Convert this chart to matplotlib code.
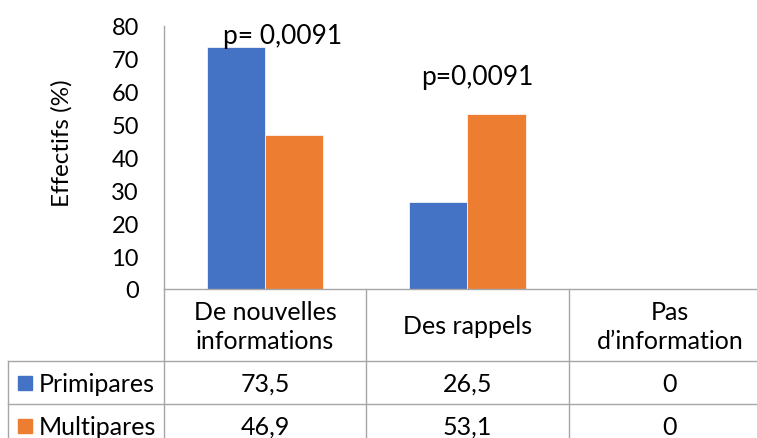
import matplotlib.pyplot as plt
import numpy as np

# Données
categories = ["De nouvelles\ninformations", "Des rappels", "Pas\nd\u2019information"]
series_names = ["Primipares", "Multipares"]
primipares = [73.5, 26.5, 0]
multipares = [46.9, 53.1, 0]
value_labels = [["73,5", "26,5", "0"], ["46,9", "53,1", "0"]]
p_labels = ["p= 0,0091", "p=0,0091"]
p_pos = [(0.085, 77), (1.047, 64.5)]
colors = ["#4472C4", "#ED7D31"]
grid_col = "#A6A6A6"

plt.rcParams['font.family'] = ['Lato', 'DejaVu Sans']
FS = 18

W, H = 757, 439
fig = plt.figure(figsize=(W / 100, H / 100), dpi=100)

# axe principal (en pixels du dessin de référence)
left, right, top, bottom = 164, 771, 27, 290
ax = fig.add_axes([left / W, 1 - bottom / H, (right - left) / W, (bottom - top) / H])

x = np.arange(len(categories))
bw = 0.287
ax.bar(x - bw / 2, primipares, bw, color=colors[0], edgecolor="white", linewidth=0.5)
ax.bar(x + bw / 2, multipares, bw, color=colors[1], edgecolor="white", linewidth=0.5)

for (px, py), txt in zip(p_pos, p_labels):
    ax.text(px, py, txt, ha="center", va="center", fontsize=19, clip_on=False)

ax.set_xlim(-0.5, len(categories) - 0.5)
ax.set_ylim(0, 80)
ax.set_yticks(np.arange(0, 81, 10))
ax.tick_params(axis="y", length=0, labelsize=17, pad=18)
ax.set_xticks([])
for s in ["top", "right"]:
    ax.spines[s].set_visible(False)
for s in ["left", "bottom"]:
    ax.spines[s].set_color(grid_col)
    ax.spines[s].set_linewidth(1)
ax.set_ylabel("Effectifs (%)", fontsize=17.5)
ax.yaxis.set_label_coords(-0.15, 0.56)

# tableau de données sous le graphique
tab_top, row1, row2, tab_bot = 290, 362, 405, 448
tax = fig.add_axes([left / W, 0, (right - left) / W, (H - tab_top) / H])
tax.set_xlim(-0.5, len(categories) - 0.5)
tax.set_ylim(H, tab_top)
tax.axis("off")
px_per_cat = (right - left) / len(categories)
x_left_edge = -0.5 - (left - 8) / px_per_cat

lk = dict(color=grid_col, linewidth=1, clip_on=False)
for xb in np.arange(len(categories) + 1) - 0.5:
    tax.plot([xb, xb], [tab_top, tab_bot], **lk)
tax.plot([x_left_edge, x_left_edge], [row1, tab_bot], **lk)
for yb in [row1, row2, tab_bot]:
    tax.plot([x_left_edge, len(categories) - 0.5], [yb, yb], **lk)

for i, cat in enumerate(categories):
    tax.text(i, (tab_top + row1) / 2 + 1, cat, ha="center", va="center",
             fontsize=FS, linespacing=1.3)

row_centres = [(row1 + row2) / 2 + 1, (row2 + tab_bot) / 2 + 1]
for r, (name, yc) in enumerate(zip(series_names, row_centres)):
    tax.plot(x_left_edge + 17 / px_per_cat, yc, marker="s", markersize=10.5,
             color=colors[r], linestyle="none", clip_on=False)
    tax.text(x_left_edge + 31 / px_per_cat, yc, name, ha="left", va="center", fontsize=FS)
    for i, v in enumerate(value_labels[r]):
        tax.text(i, yc, v, ha="center", va="center", fontsize=FS)

fig.savefig("out.png", dpi=100)
